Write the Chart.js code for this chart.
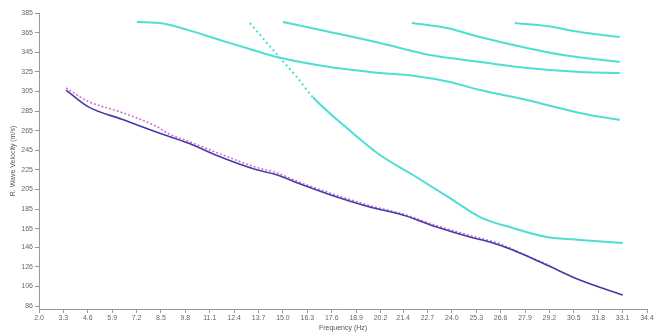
<!DOCTYPE html>
<html>
<head>
<meta charset="utf-8">
<script src="https://cdn.jsdelivr.net/npm/chart.js@4/dist/chart.umd.min.js"></script>
<style>
  html, body { margin: 0; padding: 0; background: #fff; }
  #wrap { width: 665px; height: 334px; }
</style>
</head>
<body>
<div id="wrap"><canvas id="chartDisp" width="665" height="334"></canvas></div>
<script>
// tick labels
const xTickLabels = ["2.0", "3.3", "4.6", "5.9", "7.2", "8.5", "9.8", "11.1", "12.4", "13.7", "15.0", "16.3", "17.6",
    "18.9", "20.2", "21.4", "22.7", "24.0", "25.3", "26.6", "27.9", "29.2", "30.5", "31.8", "33.1", "34.4"];
const yTickLabels = [86, 106, 126, 146, 165, 185, 205, 225, 245, 265, 285, 305, 325, 345, 365, 385];

// fundamental mode (blue)
const fundFreq = [3.44, 4.61, 6.42, 8.18, 9.94, 11.75, 13.51, 14.57, 16.07, 17.88, 19.63, 21.39, 23.2, 24.96, 26.03, 27.25, 29.06, 30.82, 33.11];
const fundVel = [306.4, 289.5, 276.5, 264.0, 252.3, 237.5, 225.5, 220.5, 209.5, 197.2, 187.0, 178.9, 166.6, 156.4, 151.3, 143.1, 127.8, 112.5, 97.2];

// picked curve (magenta)
const pickFreq = [3.44, 4.61, 6.42, 8.29, 8.9, 10.04, 11.75, 13.51, 14.57, 16.07, 17.88, 19.63, 21.39, 23.2, 24.96, 26.56, 28.16, 29.22];
const pickVel = [308.5, 295.0, 283.5, 269.0, 262.0, 253.5, 240.5, 228.0, 222.5, 211.0, 199.0, 188.5, 180.0, 168.0, 158.0, 149.5, 136.0, 127.5];

// higher modes (cyan)
const modeAFreq = [7.22, 8.3, 8.98, 9.88, 11.64, 13.4, 14.68, 17.5, 20.17, 21.93, 23.9, 25.5, 28.0, 30.82, 32.95];
const modeAVel = [375.8, 375.0, 372.8, 368.0, 357.5, 347.2, 340.1, 329.9, 323.8, 321.0, 314.6, 306.4, 296.2, 283.0, 275.8];

const modeBFreq = [15.0, 17.5, 20.17, 22.83, 23.9, 25.5, 28.0, 30.82, 32.95];
const modeBVel = [375.8, 365.6, 354.4, 342.1, 339.0, 335.0, 328.9, 324.8, 323.8];

const modeCFreq = [21.87, 23.74, 25.5, 28.0, 29.92, 32.95];
const modeCVel = [374.8, 369.7, 360.5, 349.3, 342.1, 335.0];

const modeDFreq = [27.36, 29.06, 30.82, 32.95];
const modeDVel = [374.8, 371.7, 365.6, 360.5];

const modeEFreq = [13.24, 14.84, 15.75, 16.6, 18.41, 20.17, 21.93, 23.9, 25.5, 27.25, 29.06, 30.82, 33.11];
const modeEVel = [374.8, 339.1, 319.5, 299.0, 267.6, 240.1, 219.7, 196.2, 176.8, 165.6, 156.4, 153.4, 150.3];

function pts(xs, ys) {
    return xs.map((x, i) => ({ x: x, y: ys[i] }));
}

const CYAN = "rgb(78, 222, 212)";

function curve(label, xs, ys, color, width, dash) {
    return {
        label: label,
        data: pts(xs, ys),
        showLine: true,
        borderColor: color,
        backgroundColor: color,
        borderWidth: width,
        borderDash: dash || [],
        pointRadius: 0,
        cubicInterpolationMode: "monotone",
    };
}

const steep = curve("Mode E", modeEFreq, modeEVel, CYAN, 2);
steep.segment = {
    borderDash: (ctx) => (ctx.p0.parsed.x < 16.5 ? [2, 3] : undefined),
};

const data = {
    datasets: [
        curve("Fundamental", fundFreq, fundVel, "rgb(68, 58, 165)", 1.6),
        curve("Picked", pickFreq, pickVel, "rgb(205, 105, 215)", 1.5, [2, 2]),
        curve("Mode A", modeAFreq, modeAVel, CYAN, 2),
        curve("Mode B", modeBFreq, modeBVel, CYAN, 2),
        curve("Mode C", modeCFreq, modeCVel, CYAN, 2),
        curve("Mode D", modeDFreq, modeDVel, CYAN, 2),
        steep,
    ],
};

const tickFont = { family: "Liberation Sans", size: 7 };

const config = {
    type: "scatter",
    data: data,
    options: {
        responsive: false,
        animation: false,
        layout: { padding: { top: 13, right: 18, left: 0, bottom: 0 } },
        plugins: {
            legend: { display: false },
            tooltip: { enabled: false },
        },
        scales: {
            x: {
                type: "linear",
                min: 2.0,
                max: 34.4,
                afterBuildTicks: (axis) => {
                    axis.ticks = xTickLabels.map((t) => ({ value: parseFloat(t) }));
                },
                afterFit: (axis) => {
                    axis.height = 25;
                },
                ticks: {
                    autoSkip: false,
                    maxRotation: 0,
                    padding: 1,
                    color: "#666",
                    font: tickFont,
                    callback: (v, i) => xTickLabels[i],
                },
                grid: { drawOnChartArea: false, tickLength: 4, color: "#999" },
                border: { color: "#999" },
                title: {
                    display: true,
                    text: "Frequency (Hz)",
                    color: "#555",
                    font: tickFont,
                    padding: { bottom: 2, top: 0 },
                },
            },
            y: {
                type: "linear",
                min: 83,
                max: 385,
                afterBuildTicks: (axis) => {
                    axis.ticks = yTickLabels.map((t) => ({ value: t }));
                },
                afterFit: (axis) => {
                    axis.width = 39;
                },
                ticks: {
                    autoSkip: false,
                    padding: 2,
                    color: "#666",
                    font: tickFont,
                    callback: (v, i) => String(yTickLabels[i]),
                },
                grid: { drawOnChartArea: false, tickLength: 4, color: "#999" },
                border: { color: "#999" },
                title: {
                    display: true,
                    text: "R. Wave Velocity (m/s)",
                    color: "#555",
                    font: tickFont,
                    padding: { top: 9, bottom: 0 },
                },
            },
        },
    },
};

new Chart(document.getElementById("chartDisp"), config);
</script>
</body>
</html>
